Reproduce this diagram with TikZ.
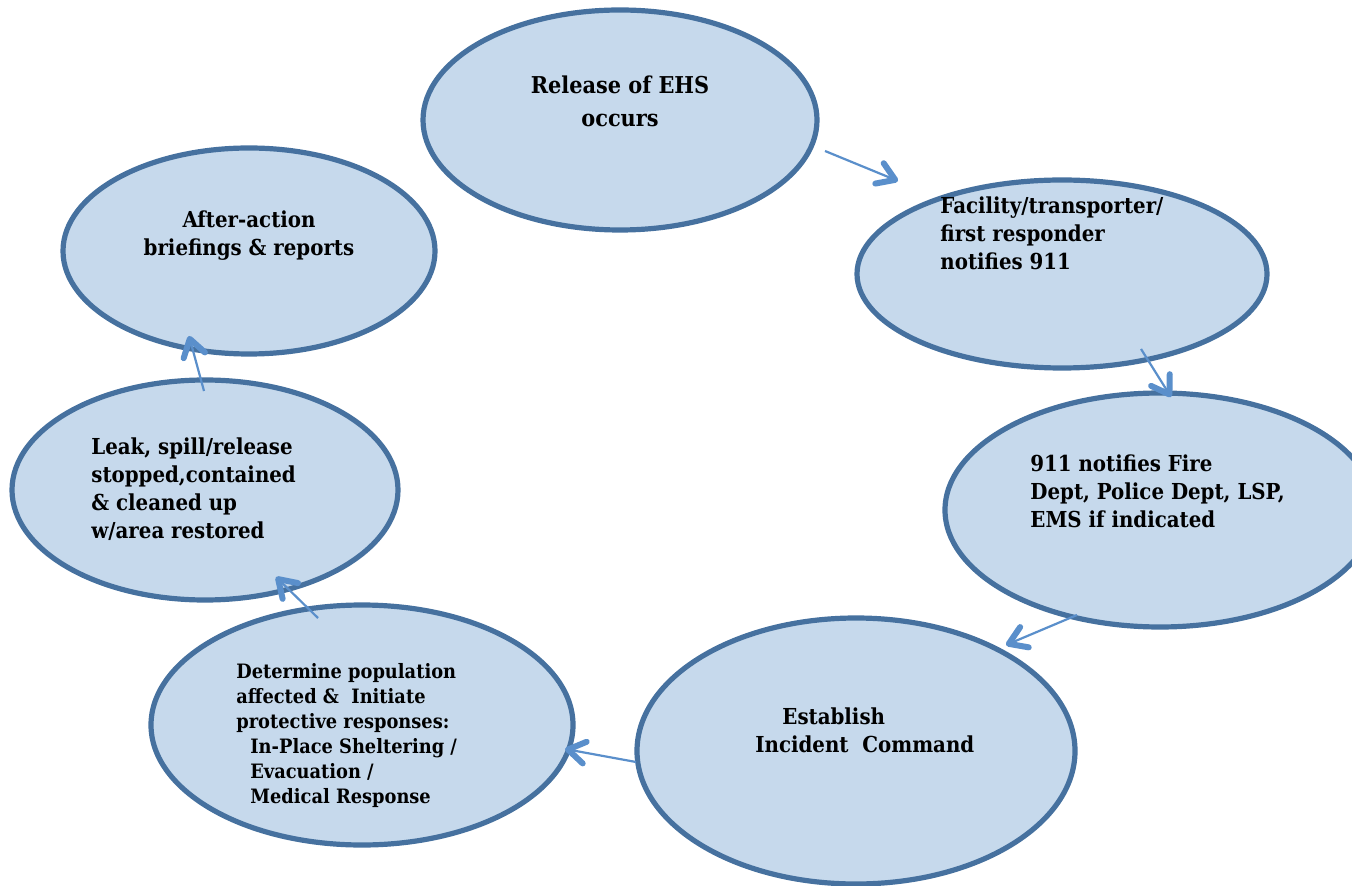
\documentclass[tikz,border=0pt]{standalone}
\usepackage{fontspec}
\setmainfont{DejaVu Serif Condensed}
\usetikzlibrary{arrows.meta,shapes.geometric}
\definecolor{stagefill}{HTML}{C6D9EC}
\definecolor{stageline}{HTML}{46719F}
\definecolor{flowblue}{HTML}{5A8FCB}

\begin{document}
\begin{tikzpicture}[x=0.5pt, y=-0.5pt,
  stage/.style={ellipse, draw=stageline, fill=stagefill, line width=2.6pt, inner sep=0pt},
  stagetext/.style={inner sep=0pt, font=\bfseries\fontsize{11}{14}\selectfont},
  flow/.style={draw=flowblue, line width=1.1pt,
    -{Straight Barb[length=8.5pt, width=11pt, line width=3pt 0, round]}}]
  \useasboundingbox (0,0) rectangle (1352,886);
  \clip (0,0) rectangle (1352,886);
  % stages
  \node[stage, minimum width=197pt, minimum height=110pt] (release) at (620,120) {};
  \node[stage, minimum width=205pt, minimum height=94pt] (notify) at (1062,274) {};
  \node[stage, minimum width=215pt, minimum height=117pt] (dispatch) at (1160,510) {};
  \node[stage, minimum width=219pt, minimum height=133pt] (command) at (856,751) {};
  \node[stage, minimum width=211pt, minimum height=120pt] (protect) at (362,725) {};
  \node[stage, minimum width=193pt, minimum height=110pt] (cleanup) at (205,490) {};
  \node[stage, minimum width=186pt, minimum height=103pt] (briefing) at (249,251) {};
  % texts
  \node[stagetext, font=\bfseries\fontsize{11.6}{16.5}\selectfont, align=center, anchor=north]
    (releasetext) at (620,75) {Release of EHS\\occurs};
  \node[stagetext, align=left, anchor=north west] (notifytext) at (940,196)
    {Facility/transporter/\\first responder\\notifies 911};
  \node[stagetext, align=left, anchor=north west] (dispatchtext) at (1030,454)
    {911 notifies Fire\\Dept, Police Dept, LSP,\\EMS if indicated};
  \node[stagetext, align=left, anchor=north west] (commandtext) at (755,707)
    {\hspace*{13.5pt}Establish\\Incident~~Command};
  \node[stagetext, font=\bfseries\fontsize{9.9}{12.5}\selectfont, align=left, anchor=north west]
    (protecttext) at (236,663)
    {Determine population\\affected \&~~Initiate\\protective responses:\\
     \hspace*{7pt}In-Place Sheltering /\\\hspace*{7pt}Evacuation /\\\hspace*{7pt}Medical Response};
  \node[stagetext, align=left, anchor=north west] (cleanuptext) at (91,437)
    {Leak, spill/release\\stopped,contained\\\& cleaned up\\w/area restored};
  \node[stagetext, align=center, anchor=north] (briefingtext) at (249,210)
    {After-action\\briefings \& reports};
  % arrows
  \coordinate (a1) at (825,151);  \coordinate (b1) at (898,181);
  \coordinate (a2) at (1141,349); \coordinate (b2) at (1171,397);
  \coordinate (a3) at (1077,615); \coordinate (b3) at (1006,645);
  \coordinate (a4) at (636,762);  \coordinate (b4) at (565,749);
  \coordinate (a5) at (318,618);  \coordinate (b5) at (276,577);
  \coordinate (a6) at (204,391);  \coordinate (b6) at (189,336);
  \draw[flow] (a1) -- (b1);
  \draw[flow] (a2) -- (b2);
  \draw[flow] (a3) -- (b3);
  \draw[flow] (a4) -- (b4);
  \draw[flow] (a5) -- (b5);
  \draw[flow] (a6) -- (b6);
\end{tikzpicture}
\end{document}
